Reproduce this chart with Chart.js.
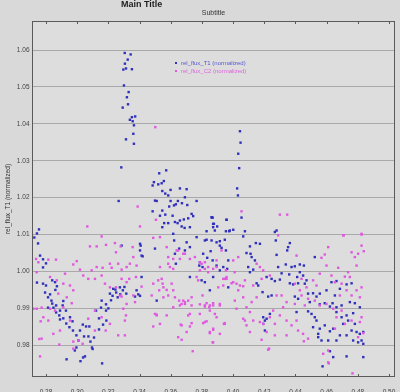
<!DOCTYPE html>
<html>
<head>
<meta charset="utf-8">
<script src="https://cdn.jsdelivr.net/npm/chart.js@4.4.1/dist/chart.umd.min.js"></script>
<style>
  html, body { margin: 0; padding: 0; background: #d9d9d9; }
  #wrap { position: relative; width: 400px; height: 392px; }
  #mainTitle { position: absolute; left: 121px; top: -1px; font: bold 9px "Liberation Sans", Arial, sans-serif; color: #1e1e1e; }
  #subTitle { position: absolute; left: 32px; width: 363px; top: 9px; text-align: center; font: 7px "Liberation Sans", Arial, sans-serif; color: #333; }
  #legend { position: absolute; left: 175px; top: 59px; font: 6px "Liberation Sans", Arial, sans-serif; line-height: 8px; }
  #legend .sw { display: inline-block; width: 2px; height: 2px; margin-right: 4px; vertical-align: middle; }
</style>
</head>
<body>
<div id="wrap">
  <canvas id="myChart" width="400" height="392"></canvas>
  <div id="mainTitle">Main Title</div>
  <div id="subTitle">Subtitle</div>
  <div id="legend"></div>
</div>
<script>
const xTicks = [0.28, 0.30, 0.32, 0.34, 0.36, 0.38, 0.40, 0.42, 0.44, 0.46, 0.48, 0.50];
const yTicks = [0.98, 0.99, 1.00, 1.01, 1.02, 1.03, 1.04, 1.05, 1.06];
const seriesNames = ['rel_flux_T1 (normalized)', 'rel_flux_C2 (normalized)'];
const yAxisLabel = 'rel_flux_T1 (normalized)';

// [phase, normalized flux]
const fluxT1 = [
  [0.2755,1.0114],[0.2742,1.0103],[0.2725,1.0092],[0.2749,1.0076],[0.2762,1.0043],[0.2781,1.0033],[0.2800,1.0022],[0.2781,1.0011],
  [0.2742,0.9970],[0.2781,0.9967],[0.2800,0.9962],[0.2794,0.9943],[0.2826,0.9938],[0.2813,0.9930],[0.2835,0.9921],[0.2840,0.9913],
  [0.2865,0.9908],[0.2848,0.9902],[0.2890,0.9894],[0.2907,0.9908],[0.2911,0.9920],[0.2928,0.9894],[0.2885,0.9881],[0.2911,0.9873],
  [0.2930,0.9859],[0.2954,0.9876],[0.2970,0.9865],[0.2950,0.9849],[0.2973,0.9840],[0.2995,0.9827],[0.3018,0.9840],[0.3008,0.9813],
  [0.3044,0.9824],[0.3072,0.9824],[0.3078,0.9851],[0.3057,0.9851],[0.3036,0.9856],[0.2985,0.9786],[0.2995,0.9794],[0.3038,0.9767],
  [0.3050,0.9770],[0.2932,0.9762],[0.3160,0.9751],[0.3095,0.9794],[0.3085,0.9810],[0.3108,0.9821],[0.3140,0.9843],[0.3166,0.9856],
  [0.3140,0.9873],[0.3187,0.9867],[0.3121,0.9894],[0.3153,0.9902],[0.3185,0.9911],[0.3217,0.9922],[0.3227,0.9934],[0.3250,0.9943],
  [0.3245,0.9951],[0.3260,0.9930],[0.3200,0.9900],[0.3276,0.9938],[0.3293,0.9949],[0.3303,0.9958],[0.3315,0.9940],[0.2813,0.9902],
  [0.2865,0.9889],[0.2890,0.9870],[0.2840,0.9976],[0.2858,0.9971],[0.2870,0.9960],[0.2860,0.9950],[0.3210,0.9940],[0.3274,0.9957],
  [0.3231,0.9953],[0.3157,0.9921],[0.3099,0.9790],[0.3021,0.9757],[0.3185,0.9894],
  [0.3305,1.0592],[0.3343,1.0588],[0.3324,1.0574],[0.3306,1.0563],[0.3296,1.0547],[0.3313,1.0550],[0.3351,1.0548],[0.3300,1.0504],
  [0.3330,1.0486],[0.3319,1.0472],[0.3326,1.0453],[0.3292,1.0444],[0.3351,1.0418],[0.3372,1.0420],[0.3338,1.0411],[0.3356,1.0407],
  [0.3364,1.0396],[0.3360,1.0373],[0.3313,1.0358],[0.3364,1.0346],[0.3283,1.0282],[0.3266,1.0191],[0.3571,1.0274],[0.3526,1.0266],
  [0.3492,1.0242],[0.3520,1.0236],[0.3542,1.0239],[0.3556,1.0245],[0.3484,1.0233],[0.3599,1.0221],[0.3565,1.0211],[0.3584,1.0206],
  [0.3659,1.0225],[0.3702,1.0223],[0.3546,1.0218],[0.3499,1.0192],[0.3510,1.0191],[0.3599,1.0191],[0.3633,1.0182],[0.3646,1.0191],
  [0.3691,1.0201],[0.3672,1.0185],[0.3706,1.0180],[0.3766,1.0191],[0.3621,1.0179],[0.3590,1.0176],[0.3484,1.0163],[0.3546,1.0165],
  [0.3565,1.0154],[0.3531,1.0151],[0.3612,1.0151],[0.3659,1.0138],[0.3684,1.0141],[0.3712,1.0144],[0.3734,1.0156],[0.3744,1.0150],
  [0.3864,1.0146],[0.3872,1.0129],[0.3958,1.0140],[0.3558,1.0131],[0.3584,1.0131],[0.3627,1.0134],[0.3644,1.0131],[0.3670,1.0122],
  [0.3689,1.0118],[0.3723,1.0120],[0.3546,1.0120],[0.3872,1.0120],
  [0.3285,1.0070],[0.3407,1.0070],[0.3403,1.0057],[0.3499,1.0062],[0.3420,1.0041],[0.3616,1.0102],[0.3622,1.0084],[0.3702,1.0079],
  [0.3654,1.0062],[0.3691,1.0057],[0.3723,1.0066],[0.3766,1.0093],[0.3830,1.0086],[0.3862,1.0084],[0.3894,1.0079],[0.3915,1.0070],
  [0.3926,1.0064],[0.3954,1.0057],[0.3856,1.0055],[0.3808,1.0048],[0.3834,1.0037],[0.3787,1.0025],[0.3783,1.0016],[0.3804,1.0012],
  [0.3869,1.0030],[0.3894,1.0016],[0.3937,1.0012],[0.3962,1.0007],[0.3915,1.0003],[0.3872,0.9985],[0.3798,0.9976],[0.3723,0.9985],
  [0.3413,0.9985],[0.3381,0.9949],[0.3392,0.9938],[0.3403,0.9934],[0.3371,0.9932],[0.3819,0.9971],[0.3851,0.9949],[0.3969,0.9957],
  [0.3862,1.0147],[0.3898,1.0122],[0.3954,1.0109],[0.3975,1.0109],[0.3883,1.0111],[0.3403,1.0075],[0.3413,1.0043],[0.3627,1.0048],
  [0.3633,1.0021],[0.3510,0.9921],
  [0.4044,1.0380],[0.4048,1.0349],[0.4033,1.0319],[0.4039,1.0280],[0.4026,1.0225],[0.4031,1.0206],[0.4054,1.0146],[0.3869,1.0146],
  [0.3877,1.0129],[0.3958,1.0140],[0.3830,1.0109],[0.3979,1.0111],[0.4001,1.0113],[0.4076,1.0109],[0.4065,1.0095],[0.4279,1.0111],
  [0.4268,1.0107],[0.4274,1.0084],[0.3819,1.0084],[0.3915,1.0082],[0.3947,1.0086],[0.4364,1.0077],[0.4353,1.0066],[0.4347,1.0057],
  [0.4108,1.0068],[0.4146,1.0077],[0.4172,1.0075],[0.4086,1.0050],[0.4112,1.0048],[0.4119,1.0039],[0.4279,1.0045],[0.4524,1.0039],
  [0.3969,1.0030],[0.4140,1.0030],[0.4097,1.0012],[0.4108,0.9998],[0.4129,1.0005],[0.4289,1.0012],[0.4338,1.0019],[0.4375,1.0012],
  [0.4396,1.0014],[0.4428,1.0019],[0.4454,1.0016],[0.4311,0.9995],[0.4360,0.9992],[0.4428,0.9998],[0.4449,0.9989],[0.4411,0.9985],
  [0.4215,0.9985],[0.4247,0.9980],[0.4268,0.9974],[0.4300,0.9978],[0.4364,0.9968],[0.4385,0.9965],[0.4417,0.9968],[0.4460,0.9967],
  [0.4471,0.9976],[0.4151,0.9968],[0.4161,0.9962],[0.4189,0.9944],[0.4225,0.9932],[0.4247,0.9935],[0.4396,0.9932],[0.4417,0.9926],
  [0.4481,0.9940],[0.4513,0.9941],[0.4535,0.9932],[0.4556,0.9940],[0.4599,0.9949],[0.4631,0.9971],[0.4663,0.9974],[0.4685,0.9953],
  [0.4728,0.9965],[0.4760,0.9968],[0.4653,0.9935],[0.4492,0.9917],[0.4556,0.9911],[0.4588,0.9914],[0.4621,0.9905],[0.4638,0.9914],
  [0.4663,0.9903],[0.4696,0.9908],[0.4749,0.9917],[0.4781,0.9914],[0.4813,0.9903],[0.4193,0.9876],[0.4204,0.9867],[0.4215,0.9872],
  [0.4193,0.9858],[0.4204,0.9840],[0.4236,0.9885],[0.4407,0.9890],[0.4481,0.9892],[0.4503,0.9885],[0.4524,0.9876],[0.4535,0.9867],
  [0.4513,0.9849],[0.4556,0.9845],[0.4588,0.9854],[0.4621,0.9838],[0.4642,0.9845],[0.4546,0.9831],[0.4546,0.9822],[0.4567,0.9813],
  [0.4610,0.9813],[0.4663,0.9890],[0.4696,0.9876],[0.4706,0.9858],[0.4728,0.9881],[0.4738,0.9867],[0.4770,0.9887],[0.4781,0.9858],
  [0.4760,0.9840],[0.4792,0.9836],[0.4813,0.9831],[0.4835,0.9836],[0.4824,0.9813],[0.4802,0.9808],[0.4770,0.9813],[0.4728,0.9827],
  [0.4685,0.9827],[0.4663,0.9813],[0.4835,0.9804],[0.4835,0.9768],[0.4728,0.9770],[0.4642,0.9768],[0.4621,0.9784],[0.4574,0.9743],
  [0.4183,0.9713],[0.4196,0.9713]
];

const fluxC2 = [
  [0.3065,1.0122],[0.3157,1.0095],[0.3082,1.0068],[0.3125,1.0068],[0.3185,1.0072],[0.3242,1.0077],[0.3279,1.0068],[0.3249,1.0052],
  [0.2736,1.0034],[0.2751,1.0025],[0.2815,1.0032],[0.2864,1.0032],[0.2975,1.0019],[0.2997,1.0028],[0.3018,1.0005],[0.3093,1.0003],
  [0.3125,1.0012],[0.3163,1.0010],[0.3210,1.0021],[0.3221,1.0010],[0.3263,1.0021],[0.3285,1.0005],[0.3317,1.0012],[0.2922,0.9994],
  [0.2740,0.9998],[0.2826,0.9985],[0.2869,0.9976],[0.2911,0.9967],[0.2954,0.9962],[0.2975,0.9949],[0.3039,0.9989],[0.3071,0.9980],
  [0.3114,0.9980],[0.3157,0.9989],[0.3178,0.9967],[0.3210,0.9957],[0.3249,0.9957],[0.3274,0.9935],[0.3285,0.9980],[0.3317,0.9971],
  [0.2879,0.9940],[0.2933,0.9930],[0.2965,0.9914],[0.2911,0.9903],[0.2858,0.9894],[0.2826,0.9899],[0.2772,0.9902],[0.2740,0.9899],
  [0.2783,0.9876],[0.2815,0.9867],[0.2847,0.9831],[0.2890,0.9840],[0.2954,0.9867],[0.3071,0.9872],[0.3114,0.9894],[0.3157,0.9876],
  [0.3183,0.9840],[0.3210,0.9858],[0.3263,0.9827],[0.3306,0.9867],[0.2772,0.9818],[0.2885,0.9802],[0.3114,0.9840],[0.2762,0.9770],
  [0.3035,0.9804],[0.3007,0.9813],[0.2975,0.9791],[0.3317,0.9912],[0.3296,0.9899],[0.2719,0.9899],[0.2766,0.9865],[0.2757,0.9817],
  [0.2975,0.9810],
  [0.3501,1.0391],[0.3388,1.0176],[0.3505,1.0140],[0.3403,1.0122],
  [0.3488,1.0091],[0.3356,1.0066],[0.3360,1.0039],[0.3338,1.0021],[0.3381,1.0016],[0.3334,0.9980],[0.3377,0.9985],[0.3360,0.9935],
  [0.3371,0.9917],[0.3413,0.9959],[0.3478,0.9935],[0.3520,0.9976],[0.3548,0.9967],[0.3553,0.9957],[0.3526,0.9949],[0.3584,1.0039],
  [0.3616,1.0034],[0.3595,1.0012],[0.3616,1.0007],[0.3659,1.0034],[0.3691,1.0048],[0.3723,1.0034],[0.3755,1.0039],[0.3648,1.0057],
  [0.3606,0.9967],[0.3574,0.9950],[0.3627,0.9930],[0.3654,0.9921],[0.3670,0.9912],[0.3691,0.9917],[0.3712,0.9921],[0.3734,0.9930],
  [0.3766,0.9985],[0.3776,0.9976],[0.3787,1.0003],[0.3819,1.0007],[0.3840,0.9998],[0.3872,1.0007],[0.3804,0.9935],[0.3819,0.9908],
  [0.3847,0.9903],[0.3872,0.9914],[0.3915,0.9908],[0.3905,0.9957],[0.3937,0.9980],[0.3958,0.9985],[0.3954,1.0003],[0.3894,1.0030],
  [0.3926,1.0057],
  [0.3285,0.9932],[0.3313,0.9881],[0.3306,0.9827],[0.3499,0.9885],[0.3510,0.9883],[0.3488,0.9851],[0.3648,0.9822],[0.3670,0.9815],
  [0.3664,0.9856],[0.3712,0.9881],[0.3734,0.9860],[0.3723,0.9851],[0.3787,0.9885],[0.3808,0.9860],[0.3830,0.9865],[0.3883,0.9885],
  [0.3872,0.9842],[0.3851,0.9833],[0.3915,0.9831],[0.3947,0.9858],[0.3872,0.9808],[0.3741,0.9784],[0.3734,0.9908],[0.3787,0.9911],
  [0.3819,0.9905],[0.3851,0.9908],[0.3659,0.9908],[0.3691,0.9912],[0.3616,0.9903],[0.3553,0.9930],[0.3584,0.9935],
  [0.3531,1.0093],[0.3574,1.0066],[0.3638,1.0057],[0.3680,1.0048],[0.3584,1.0021],[0.3531,1.0012],[0.3787,1.0025],[0.3488,0.9967],
  [0.3542,0.9980],[0.3616,0.9949],[0.3680,0.9921],[0.3851,0.9894],[0.3894,0.9876],[0.3723,0.9885],[0.3574,0.9881],[0.3510,0.9881],
  [0.3531,0.9858],[0.3670,0.9854],[0.3702,0.9836],[0.3851,0.9836],
  [0.4054,1.0163],[0.4300,1.0154],[0.4347,1.0154],[0.4706,1.0098],[0.4824,1.0102],[0.3819,1.0025],[0.3798,1.0021],[0.3840,1.0012],
  [0.3894,1.0012],[0.3947,0.9980],[0.3990,0.9968],[0.4022,0.9967],[0.4065,0.9960],[0.4033,1.0039],[0.4001,1.0030],[0.4151,1.0021],
  [0.4172,1.0012],[0.3830,0.9914],[0.3872,0.9908],[0.3915,0.9912],[0.3819,0.9863],[0.3872,0.9845],[0.3947,0.9860],[0.4076,0.9867],
  [0.4086,0.9854],[0.4108,0.9836],[0.4183,0.9815],[0.4268,0.9827],[0.4225,0.9788],
  [0.4289,1.0098],[0.4407,1.0043],[0.4610,1.0066],[0.4710,1.0098],[0.4824,1.0100],[0.4824,1.0070],[0.4838,1.0055],[0.4781,1.0039],
  [0.4802,1.0048],[0.4760,1.0052],[0.4738,0.9998],[0.4792,1.0016],[0.4717,0.9986],[0.4749,0.9985],[0.4674,1.0010],[0.4567,1.0037],
  [0.4588,1.0046],[0.4599,1.0016],[0.4556,0.9994],[0.4631,0.9989],[0.4653,0.9971],[0.4696,0.9967],[0.4728,0.9949],[0.4685,0.9935],
  [0.4760,0.9935],[0.4792,0.9949],[0.4813,0.9930],[0.4824,0.9957],[0.4513,0.9976],[0.4535,0.9962],[0.4471,0.9957],[0.4439,0.9980],
  [0.4524,0.9921],[0.4556,0.9908],[0.4599,0.9912],[0.4642,0.9899],[0.4663,0.9876],[0.4696,0.9894],[0.4653,0.9845],[0.4717,0.9858],
  [0.4760,0.9867],[0.4813,0.9863],[0.4824,0.9876],[0.4835,0.9833],[0.4802,0.9822],[0.4610,0.9786],[0.4578,0.9777],[0.4610,0.9754],
  [0.4766,0.9724],[0.4231,0.9791],[0.4396,0.9967],[0.4428,0.9949],[0.4439,0.9935],[0.4460,0.9908],[0.4481,0.9926],[0.4396,0.9912],
  [0.4343,0.9917],[0.4311,0.9935],[0.4321,0.9903],[0.4279,0.9935],[0.4257,0.9894],[0.4300,0.9881],[0.4343,0.9867],[0.4375,0.9854],
  [0.4407,0.9867],[0.4417,0.9840],[0.4449,0.9831],[0.4481,0.9818],[0.4343,0.9827],[0.4215,0.9836],[0.4193,0.9858],[0.4236,0.9876],
  [0.4268,0.9858],[0.4172,0.9863],[0.4129,0.9867],[0.4108,0.9890],[0.4086,0.9903],[0.4119,0.9917],[0.4151,0.9930],[0.4033,0.9949],
  [0.4065,0.9930],[0.4011,0.9921],[0.4022,0.9899],[0.4065,0.9872],[0.3941,0.9858],[0.4044,0.9962],[0.4076,0.9976],[0.4129,0.9962],
  [0.4183,0.9980],[0.4193,1.0003],[0.4236,0.9989],[0.4010,0.9998],[0.3958,0.9980],[0.4001,0.9971],[0.3937,0.9962],[0.4454,0.9811],
  [0.4614,0.9751],[0.3869,0.9808]
];

const colorT1 = '#3030bc';
const colorC2 = '#e058e0';
const legendTextColors = ['#5858d0', '#dc66dc'];

// legend sits inside the plot, as in the original
const legendEl = document.getElementById('legend');
[colorT1, colorC2].forEach((c, i) => {
  const row = document.createElement('div');
  row.innerHTML = `<span class="sw" style="background:${c}"></span><span style="color:${legendTextColors[i]}">${seriesNames[i]}</span>`;
  legendEl.appendChild(row);
});

const plotFrame = {
  id: 'plotFrame',
  beforeDraw(chart) {
    const { ctx, chartArea: a } = chart;
    ctx.save();
    ctx.fillStyle = '#dddddd';
    ctx.fillRect(a.left, a.top, a.right - a.left, a.bottom - a.top);
    ctx.restore();
  },
  afterDraw(chart) {
    const { ctx, chartArea: a } = chart;
    const xs = chart.scales.x;
    ctx.save();
    ctx.strokeStyle = '#5a5a5a';
    ctx.lineWidth = 1;
    ctx.strokeRect(a.left + 0.5, a.top + 0.5, a.right - a.left - 1, a.bottom - a.top - 1);
    ctx.beginPath();
    xTicks.forEach(v => {
      const px = Math.round(xs.getPixelForValue(v)) + 0.5;
      ctx.moveTo(px, a.top);
      ctx.lineTo(px, a.top + 3);
      ctx.moveTo(px, a.bottom);
      ctx.lineTo(px, a.bottom - 3);
    });
    ctx.stroke();
    ctx.restore();
  }
};

Chart.defaults.font.family = '"Liberation Sans", Arial, sans-serif';

const ctx = document.getElementById('myChart').getContext('2d');
const chart = new Chart(ctx, {
  type: 'scatter',
  data: {
    datasets: [{
      label: seriesNames[0],
      data: fluxT1.map(p => ({ x: p[0], y: p[1] })),
      backgroundColor: colorT1,
      pointStyle: 'rect',
      pointRadius: 1.7,
      borderWidth: 0,
      order: 1
    }, {
      label: seriesNames[1],
      data: fluxC2.map(p => ({ x: p[0], y: p[1] })),
      backgroundColor: colorC2,
      pointStyle: 'rect',
      pointRadius: 1.7,
      borderWidth: 0,
      order: 0
    }]
  },
  options: {
    responsive: false,
    animation: false,
    layout: { padding: { top: 21, right: 5, left: 0, bottom: 0 } },
    plugins: {
      legend: { display: false },
      tooltip: { enabled: false }
    },
    scales: {
      x: {
        type: 'linear',
        min: 0.27102,
        max: 0.50385,
        afterBuildTicks: scale => { scale.ticks = xTicks.map(v => ({ value: v })); },
        afterFit: scale => { scale.height = 15; },
        grid: { display: false },
        border: { display: false },
        ticks: {
          padding: 3.5,
          color: '#444',
          font: { size: 6.5 },
          maxRotation: 0,
          autoSkip: false,
          callback: v => v.toFixed(2)
        }
      },
      y: {
        min: 0.97141,
        max: 1.06786,
        afterBuildTicks: scale => { scale.ticks = yTicks.map(v => ({ value: v })); },
        afterFit: scale => { scale.width = 32; },
        grid: { color: '#a9a9a9', lineWidth: 1, drawTicks: false },
        border: { display: false },
        title: {
          display: true,
          text: yAxisLabel,
          color: '#333',
          font: { size: 6.5 },
          padding: { top: 4, bottom: 0 }
        },
        ticks: {
          padding: 2.5,
          color: '#444',
          font: { size: 6.5 },
          autoSkip: false,
          callback: v => v.toFixed(2)
        }
      }
    }
  },
  plugins: [plotFrame]
});
</script>
</body>
</html>
